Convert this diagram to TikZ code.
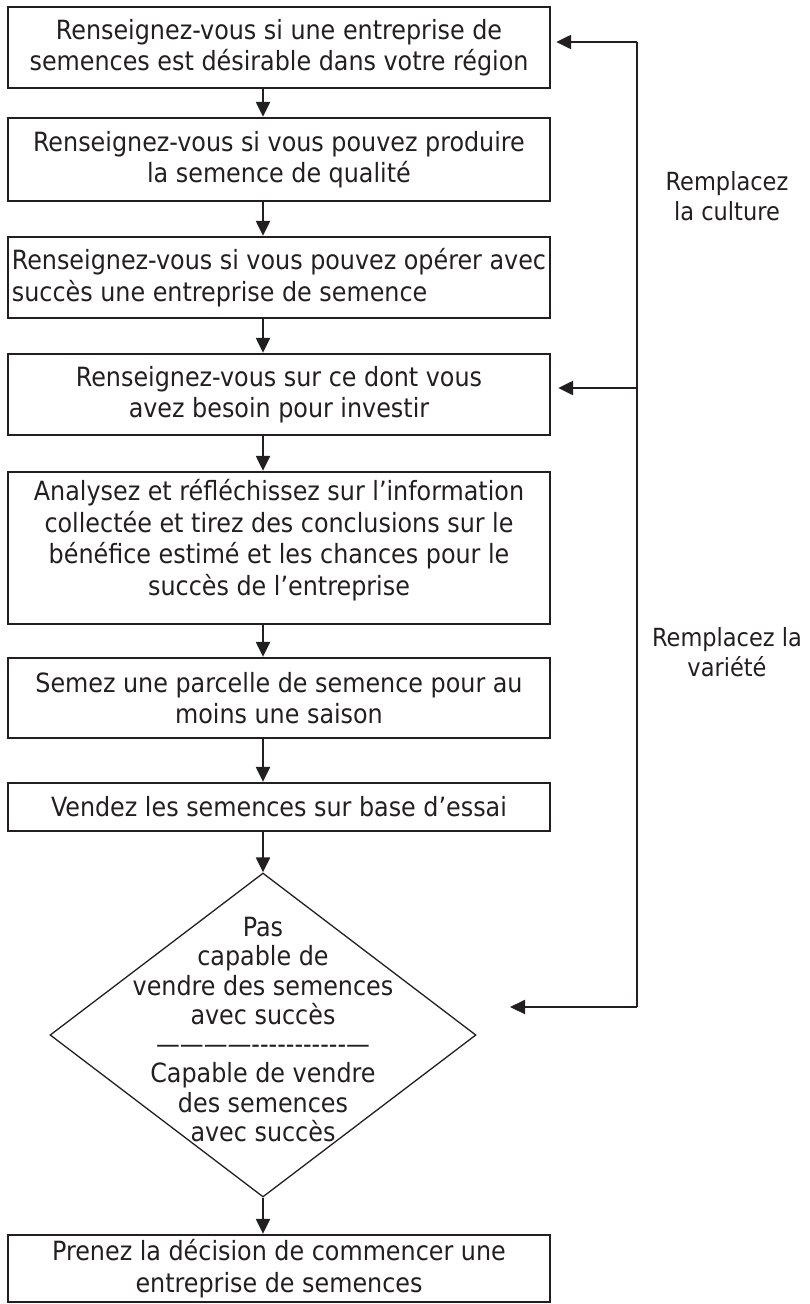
\documentclass[tikz,border=0pt]{standalone}
\usepackage{fontspec}
\setmainfont{DejaVu Sans Condensed}
\usetikzlibrary{arrows.meta,shapes.geometric}
\definecolor{ink}{RGB}{35,31,32}
\begin{document}
\begin{tikzpicture}[x=1pt,y=-1pt,
  txt/.style={text=ink, font=\fontsize{26.5}{31.5}\selectfont, align=center, inner sep=0pt},
  box/.style={txt, draw=ink, line width=2.3pt, minimum width=542pt, inner sep=0pt},
  lab/.style={text=ink, font=\fontsize{25}{30}\selectfont, align=center, inner sep=0pt},
  conn/.style={draw=ink, line width=2.2pt},
  arr/.style={conn, -{Triangle[length=15pt,width=14pt]}},
]
\useasboundingbox (0,0) rectangle (809,1304);
\coordinate (ax) at (263,0);
\node[box, minimum height=81pt] (b1) at (279,47.5) {Renseignez-vous si une entreprise de\\semences est désirable dans votre région};
\node[box, minimum height=83pt] (b2) at (279,159.5) {Renseignez-vous si vous pouvez produire\\la semence de qualité};
\node[box, minimum height=81pt, align=left] (b3) at (279,277.5) {Renseignez-vous si vous pouvez opérer avec\\succès une entreprise de semence};
\node[box, minimum height=81pt] (b4) at (279,394.5) {Renseignez-vous sur ce dont vous\\avez besoin pour investir};
\node[box, minimum height=152pt] (b5) at (279,548) {};
\node[txt] (b5t) at (279,540) {Analysez et réfléchissez sur l’information\\collectée et tirez des conclusions sur le\\bénéfice estimé et les chances pour le\\succès de l’entreprise};
\node[box, minimum height=80pt] (b6) at (279,698) {Semez une parcelle de semence pour au\\moins une saison};
\node[box, minimum height=48pt] (b7) at (279,807) {Vendez les semences sur base d’essai};
\node[diamond, draw=ink, line width=1.3pt, minimum width=426pt, minimum height=324pt, inner sep=0pt] (dia) at (263,1035) {};
\node[txt, font=\fontsize{26.5}{29.3}\selectfont] (dt) at (263,1029.5) {Pas\\capable de\\vendre des semences\\avec succès\\————-{}-{}-{}-{}-{}-{}-{}-{}-{}-{}-{}—\\Capable de vendre\\des semences\\avec succès};
\node[box, minimum height=67pt] (b8) at (279,1268.5) {Prenez la décision de commencer une\\entreprise de semences};
\node[lab] (l1) at (727,196) {Remplacez\\la culture};
\node[lab] (l2) at (727,652) {Remplacez la\\variété};
\draw[arr] (b1.south -| ax) -- (b2.north -| ax);
\draw[arr] (b2.south -| ax) -- (b3.north -| ax);
\draw[arr] (b3.south -| ax) -- (b4.north -| ax);
\draw[arr] (b4.south -| ax) -- (b5.north -| ax);
\draw[arr] (b5.south -| ax) -- (b6.north -| ax);
\draw[arr] (b6.south -| ax) -- (b7.north -| ax);
\draw[arr] (b7.south -| ax) -- (dia.north);
\draw[arr] (dia.south) -- (b8.north -| ax);
\coordinate (fbtop) at (637,42);
\coordinate (fbmid) at (637,388);
\coordinate (fbbot) at (637,1007);
\coordinate (dtip) at (510,1007);
\draw[conn] (fbtop) -- (fbbot);
\draw[arr, shorten >=5pt] (fbtop) -- (b1.east |- fbtop);
\draw[arr, shorten >=7pt] (fbmid) -- (b4.east |- fbmid);
\draw[arr] (fbbot) -- (dtip);
\end{tikzpicture}
\end{document}
